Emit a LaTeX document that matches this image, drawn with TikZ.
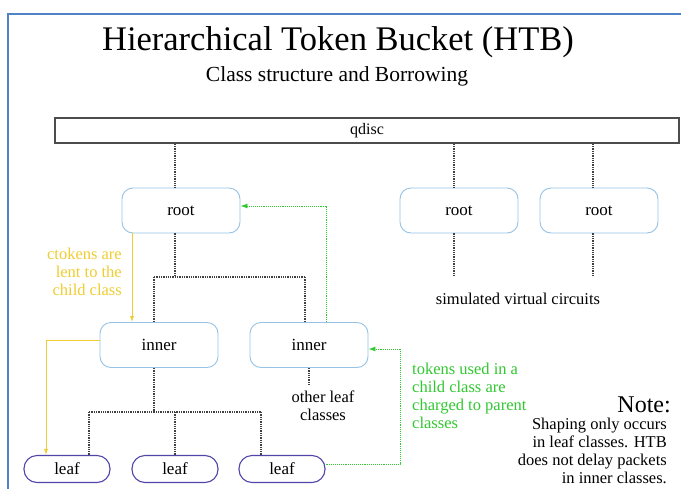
\documentclass[tikz,border=0pt]{standalone}
\usepackage{fontspec}
\setmainfont{Liberation Serif}
\usetikzlibrary{arrows.meta}
\definecolor{frameblue}{RGB}{80,130,200}
\definecolor{boxblue}{RGB}{150,195,230}
\definecolor{leafblue}{RGB}{80,70,170}
\definecolor{lendyellow}{RGB}{240,205,50}
\definecolor{chargegreen}{RGB}{50,200,50}
\tikzset{
  classbox/.style={draw=boxblue, line width=0.9pt, rounded corners=11pt, fill=white,
    minimum width=118pt, minimum height=45pt, font=\fontsize{17}{18}\selectfont, inner sep=0pt},
  leafbox/.style={draw=leafblue, line width=1.1pt, rounded corners=13pt, fill=white,
    minimum width=86pt, minimum height=27pt, font=\fontsize{17}{18}\selectfont, inner sep=0pt},
  tree/.style={draw=black!75, line width=1.3pt, densely dotted},
  lend/.style={draw=lendyellow, line width=0.8pt, -{Latex[length=6pt,width=4pt]}},
  charge/.style={draw=chargegreen, line width=0.9pt, densely dotted, -{Latex[length=7pt,width=5pt]}},
  lbl/.style={font=\fontsize{16.5}{17.8}\selectfont, inner sep=0pt},
}
\begin{document}
\begin{tikzpicture}[x=1pt, y=-1pt]
\useasboundingbox (0,0) rectangle (681,488);
\fill[white] (0,0) rectangle (681,488);
% outer frame
\draw[frameblue, line width=1.8pt] (8,490) -- (8,14) -- (683,14);

% titles
\node[font=\fontsize{34.5}{38}\selectfont] (title) at (338,42) {Hierarchical Token Bucket (HTB)};
\node[font=\fontsize{21.5}{24}\selectfont] (sub) at (337,76) {Class structure and Borrowing};

% qdisc bar
\node[draw=black!70, line width=1.5pt, minimum width=624pt, minimum height=25pt,
      inner sep=0pt, font=\fontsize{16}{18}\selectfont] (qdisc) at (367,130.5) {qdisc};

% classes
\node[classbox] (root1) at (181,210.5) {root};
\node[classbox] (root2) at (459,210.5) {root};
\node[classbox] (root3) at (599,210.5) {root};
\node[classbox] (inner1) at (159,345) {inner};
\node[classbox] (inner2) at (309,345) {inner};
\node[leafbox] (leaf1) at (67,469) {leaf};
\node[leafbox] (leaf2) at (175,469) {leaf};
\node[leafbox] (leaf3) at (282,469) {leaf};

% tree connectors
\coordinate (j1) at (175,277);
\coordinate (j2) at (154,412);
\coordinate (v2) at (454,275);
\coordinate (v3) at (593,275);
\coordinate (o2) at (309,386);
\draw[tree] (qdisc.south -| j1) -- (root1.north -| j1);
\draw[tree] (qdisc.south -| v2) -- (root2.north -| v2);
\draw[tree] (qdisc.south -| v3) -- (root3.north -| v3);
\draw[tree] (root2.south -| v2) -- (v2);
\draw[tree] (root3.south -| v3) -- (v3);
\draw[tree] (root1.south -| j1) -- (j1);
\draw[tree] (154,277) -- (305,277);
\draw[tree] (154,277) -- (inner1.north -| 154,0);
\draw[tree] (305,277) -- (inner2.north -| 305,0);
\draw[tree] (inner1.south -| j2) -- (j2);
\draw[tree] (89,412) -- (261,412);
\draw[tree] (89,412) -- (leaf1.north -| 89,0);
\draw[tree] (175,412) -- (leaf2.north);
\draw[tree] (261,412) -- (leaf3.north -| 261,0);
\draw[tree] (inner2.south) -- (o2);

% borrowing arrows
\draw[lend] (root1.south -| 132,0) -- (inner1.north -| 132,0);
\draw[lend] (inner1.west |- 0,340) -| (leaf1.north -| 46,0);
\draw[charge] (inner2.north -| 326,0) |- (root1.east |- 0,206);
\draw[charge] (leaf3.east |- 0,464) -| (400,349) -- (inner2.east |- 0,349);

% labels
\node[lbl, text=lendyellow, align=right, anchor=north east] (lendtxt) at (122,248)
  {ctokens are\\lent to the\\child class};
\node[lbl, align=center] (other) at (323,406) {other leaf\\classes};
\node[lbl] (sim) at (518,299) {simulated virtual circuits};
\node[lbl, text=chargegreen, align=left, anchor=north west] (chargetxt) at (412,363)
  {tokens used in a\\child class are\\charged to parent\\classes};
\node[font=\fontsize{24}{26}\selectfont, anchor=base east, inner sep=0pt] (note) at (671,412) {Note:};
\node[lbl, align=right, anchor=north east] (notetxt) at (667,418)
  {Shaping only occurs\\in leaf classes. HTB\\does not delay packets\\in inner classes.};
\end{tikzpicture}
\end{document}
